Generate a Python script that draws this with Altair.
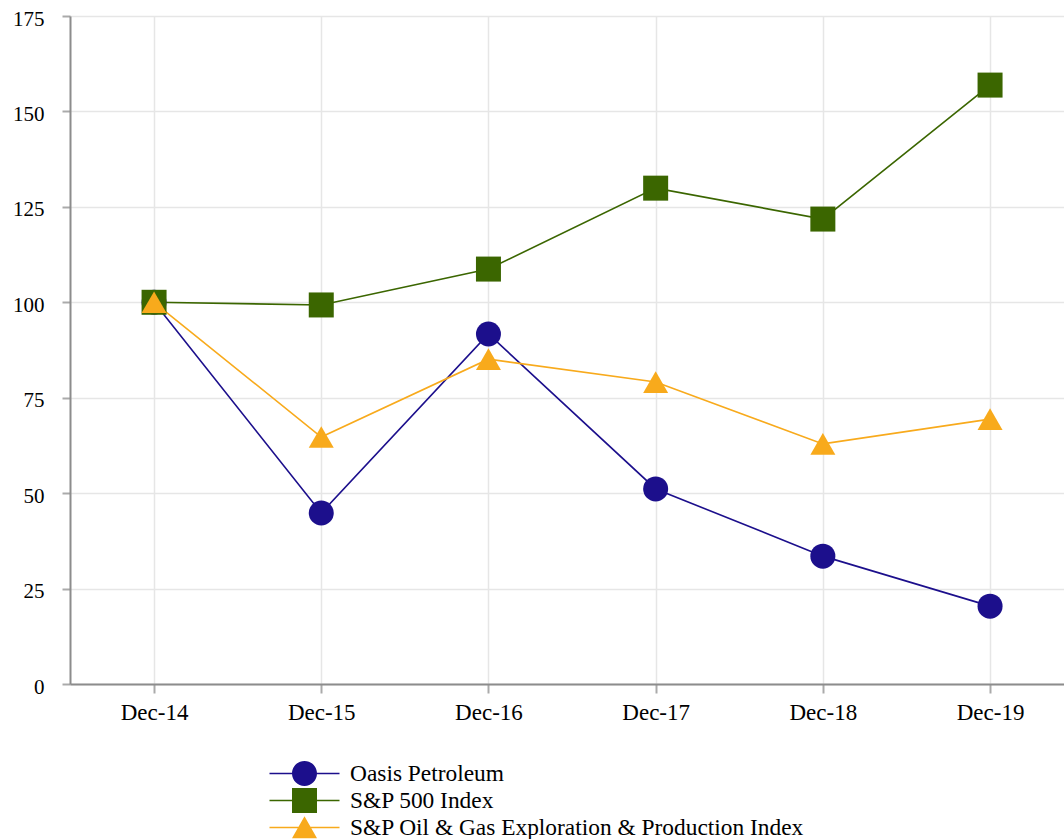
import altair as alt
import pandas as pd

dates = ["Dec-14", "Dec-15", "Dec-16", "Dec-17", "Dec-18", "Dec-19"]
series_names = ["Oasis Petroleum", "S&P 500 Index", "S&P Oil & Gas Exploration & Production Index"]
oasis = [100, 44.8, 91.7, 51.1, 33.5, 20.4]
sp500 = [100, 99.3, 108.7, 129.9, 121.8, 156.9]
oil_gas = [100, 64.7, 85.1, 79.1, 62.9, 69.4]
colors = ["#1c0f8c", "#3b6600", "#f8aa1c"]
shapes = ["circle", "square", "triangle-up"]
y_ticks = [0, 25, 50, 75, 100, 125, 150, 175]

rows = []
for name, vals in zip(series_names, [oasis, sp500, oil_gas]):
    for d, v in zip(dates, vals):
        rows.append({"date": d, "series": name, "value": v})
df = pd.DataFrame(rows)

FONT = "Liberation Serif, Times New Roman, serif"

bar = "M-2.8,-0.06H2.8V0.06H-2.8Z"
leg_shapes = [
    bar + "M1,0A1,1 0 1,1 -1,0A1,1 0 1,1 1,0Z",
    bar + "M-1,-1H1V1H-1Z",
    bar + "M0,-0.9L1,0.85H-1Z",
]

color_scale = alt.Scale(domain=series_names, range=colors)

x_enc = alt.X("date:N", sort=dates,
              scale=alt.Scale(type="point", padding=0.4725, align=0.532),
              axis=alt.Axis(title=None, labelAngle=0, labelFont=FONT, labelFontSize=23,
                            labelColor="#000", labelPadding=8, tickSize=9, tickWidth=2,
                            tickColor="#aaaaaa", domainColor="#8c8c8c", domainWidth=2,
                            grid=True, gridColor="#e6e6e6", gridWidth=1.5))
y_enc = alt.Y("value:Q",
              scale=alt.Scale(domain=[0, 175], nice=False, zero=True),
              axis=alt.Axis(title=None, values=y_ticks, labelFont=FONT, labelFontSize=21,
                            labelColor="#000", labelPadding=18, labelOffset=3, tickSize=8,
                            tickWidth=2, tickColor="#aaaaaa", domainColor="#8c8c8c",
                            domainWidth=2, grid=True, gridColor="#e6e6e6", gridWidth=1.5))

lines = alt.Chart(df).mark_line(strokeWidth=1.6).encode(
    x=x_enc, y=y_enc,
    color=alt.Color("series:N", scale=color_scale, sort=series_names, legend=None),
)

points = alt.Chart(df).mark_point(filled=True, size=625, opacity=1).encode(
    x=alt.X("date:N", sort=dates),
    y="value:Q",
    color=alt.Color("series:N", scale=color_scale, sort=series_names, legend=None),
    shape=alt.Shape("series:N", scale=alt.Scale(domain=series_names, range=shapes), legend=None),
)

legend_kw = dict(title=None, orient="none", legendX=222, legendY=745,
                 direction="vertical", symbolSize=625, symbolStrokeWidth=0,
                 labelFont=FONT, labelFontSize=23.4, labelColor="#000",
                 labelOffset=33, rowPadding=2, padding=0, labelLimit=800)

legend_layer = alt.Chart(df).transform_filter("false").mark_point(
    filled=True, size=625, opacity=1).encode(
    x=alt.X("date:N", sort=dates),
    y="value:Q",
    color=alt.Color("series:N", scale=color_scale, sort=series_names,
                    legend=alt.Legend(**legend_kw)),
    shape=alt.Shape("series:N", scale=alt.Scale(domain=series_names, range=leg_shapes),
                    sort=series_names, legend=alt.Legend(**legend_kw)),
)

chart = alt.layer(lines, points, legend_layer).resolve_scale(
    color="independent", shape="independent"
).properties(
    width=994, height=668,
    autosize=alt.AutoSizeParams(type="none"),
    padding={"left": 70, "top": 16, "right": 0, "bottom": 155},
    background="white",
).configure_view(stroke=None).configure(font=FONT)

chart.save("out.html", embed_options={"renderer": "svg", "actions": False})
